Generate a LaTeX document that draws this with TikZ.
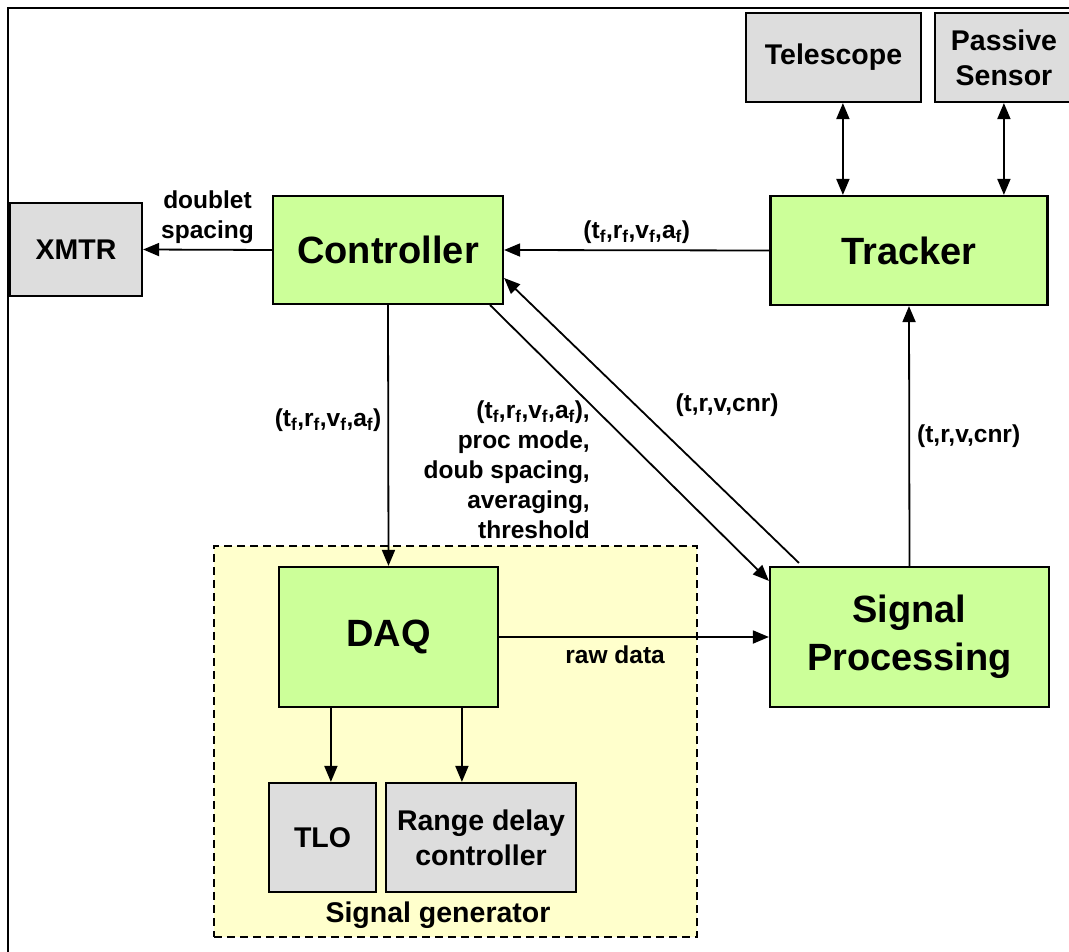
\documentclass[tikz,border=0pt]{standalone}
\usepackage{fontspec}
\setmainfont{Liberation Sans}
\usepackage{tikz}
\usetikzlibrary{arrows.meta,calc}
\definecolor{BlockGreen}{RGB}{204,255,153}
\definecolor{BlockGray}{RGB}{221,221,221}
\definecolor{GenYellow}{RGB}{255,255,204}

\begin{document}
\begin{tikzpicture}[x=1pt,y=-1pt,>={Triangle[length=16pt,width=13pt]},
  blk/.style n args={3}{draw,line width=2.2pt,fill=#1,minimum width=#2pt,minimum height=#3pt,inner sep=0pt,align=center},
  bigtxt/.style={font=\fontsize{38}{48}\selectfont\bfseries},
  midtxt/.style={font=\fontsize{28.5}{35}\selectfont\bfseries},
  lbl/.style={font=\fontsize{24.5}{30}\selectfont\bfseries,inner sep=0pt,align=center},
  arr/.style={line width=1.8pt,->}]
\clip (0,0) rectangle (1069,952);
\draw[line width=2.8pt] (8,8) rectangle (1090,970);
% signal generator group
\node[draw,line width=1.8pt,dash pattern=on 8pt off 5pt,fill=GenYellow,minimum width=483pt,minimum height=391pt](sg) at (455.5,741.5) {};
\node[midtxt](sgl) at (438,915) {Signal generator};
% blocks
\node[blk={BlockGray}{132}{93},midtxt](xmtr) at (76,249.5) {XMTR};
\node[blk={BlockGreen}{230}{108},bigtxt](ctrl) at (388,250) {Controller};
\node[blk={BlockGreen}{277}{109},bigtxt](trk) at (909,250.5) {Tracker};
\node[blk={BlockGray}{175}{89},midtxt](tel) at (833.5,57.5) {Telescope};
\node[blk={BlockGray}{138}{89},midtxt](pas) at (1004,57.5) {Passive\\Sensor};
\node[blk={BlockGreen}{219}{140},bigtxt](daq) at (388.5,637) {DAQ};
\node[blk={BlockGreen}{279}{140},bigtxt](sp) at (909.5,637) {Signal\\Processing};
\node[blk={BlockGray}{107}{109},midtxt](tlo) at (322.5,837.5) {TLO};
\node[blk={BlockGray}{190}{109},midtxt](rdc) at (481,837.5) {Range delay\\controller};
% connectors
\draw[arr] (ctrl.west) -- (xmtr.east) node[lbl,midway,above=5pt](dsl){doublet\\spacing};
\draw[arr] (trk.west) -- (ctrl.east) node[lbl,midway,above=6pt](fl1){(t\textsubscript{f},r\textsubscript{f},v\textsubscript{f},a\textsubscript{f})};
\draw[arr] (ctrl.south) -- (daq.north) node[lbl,pos=0.44,left=6pt](fl2){(t\textsubscript{f},r\textsubscript{f},v\textsubscript{f},a\textsubscript{f})};
\draw[arr] ($(ctrl.south east)+(-14,0)$) -- ($(sp.north west)+(0,15)$);
\draw[arr] ($(sp.north west)+(30,-3)$) -- ($(ctrl.east)+(0,28)$);
\draw[arr] (daq.east) -- (sp.west) node[lbl,pos=0.43,below=8pt](raw){raw data};
\draw[arr] (sp.north) -- (trk.south) node[lbl,midway,right=7pt](cnr2){(t,r,v,cnr)};
\foreach \s/\dx in {tel/73.5,pas/234.5} {
  \draw[arr,<->] ($(trk.north west)+(\dx,0)$) coordinate(c\s) -- (c\s |- \s.south);
}
\foreach \t/\dx in {tlo/53,rdc/184} {
  \draw[arr] ($(daq.south west)+(\dx,0)$) coordinate(d\t) -- (d\t |- \t.north);
}
% labels on the diagonals
\node[lbl,anchor=east,align=right](cmd) at (590,470) {(t\textsubscript{f},r\textsubscript{f},v\textsubscript{f},a\textsubscript{f}),\\proc mode,\\doub spacing,\\averaging,\\threshold};
\node[lbl](cnr1) at (727,405) {(t,r,v,cnr)};
\end{tikzpicture}
\end{document}
